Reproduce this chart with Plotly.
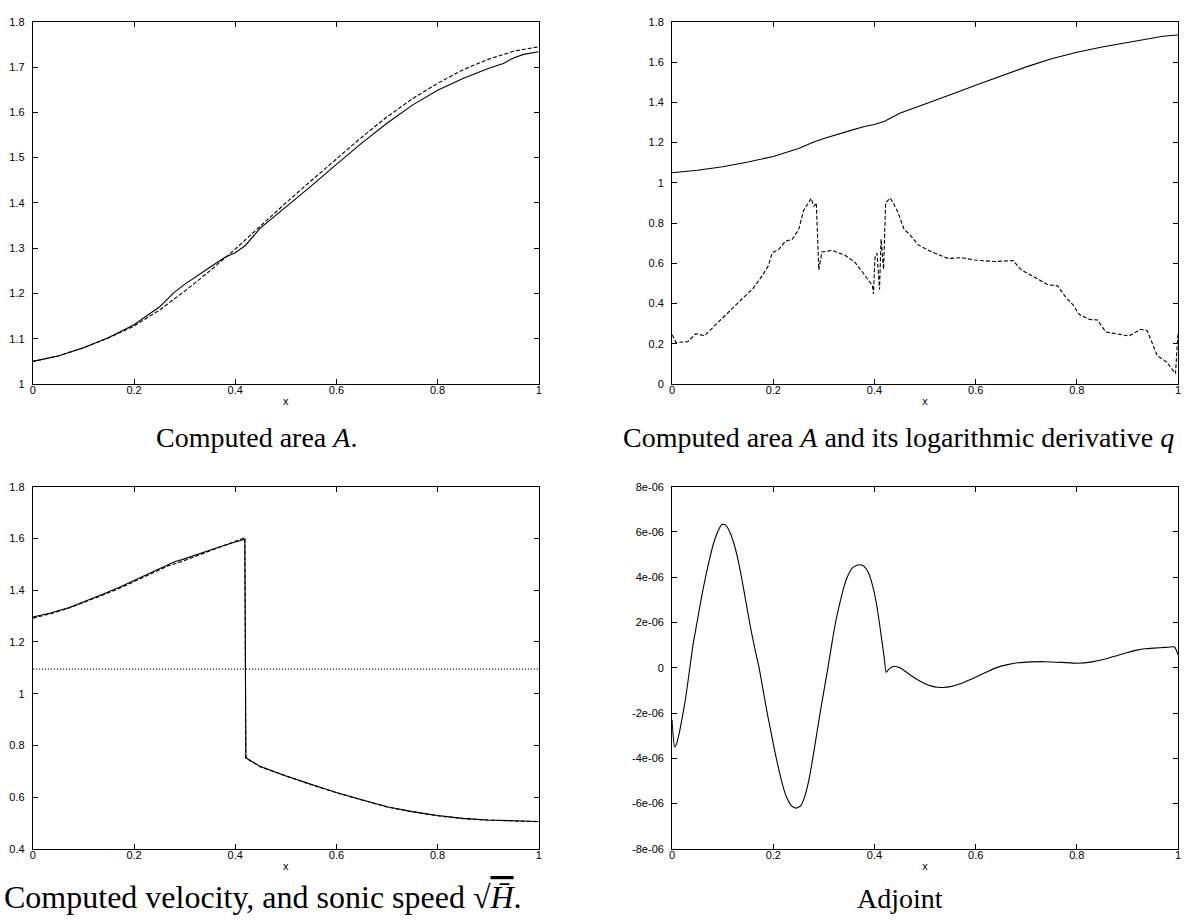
import plotly.graph_objects as go

W, H = 1187, 924

# ---------------- data ----------------
x_ticks = [0, 0.2, 0.4, 0.6, 0.8, 1.0]
x_tick_labels = ["0", "0.2", "0.4", "0.6", "0.8", "1"]

# Computed area A (solid, used in both top panels)
area_x = [0, 0.05, 0.1, 0.15, 0.2, 0.25, 0.28, 0.3, 0.35, 0.38, 0.4, 0.42, 0.45,
          0.5, 0.55, 0.6, 0.65, 0.7, 0.75, 0.8, 0.85, 0.9, 0.93, 0.95, 0.97, 1.0]
area_solid = [1.05, 1.062, 1.08, 1.103, 1.131, 1.17, 1.203, 1.22, 1.258, 1.28, 1.29, 1.306,
              1.345, 1.39, 1.437, 1.485, 1.532, 1.576, 1.616, 1.649, 1.675, 1.697, 1.708,
              1.72, 1.728, 1.734]
# target area (dashed)
target_x = [0, 0.05, 0.1, 0.15, 0.2, 0.25, 0.3, 0.35, 0.4, 0.45, 0.5, 0.55, 0.6,
            0.65, 0.7, 0.75, 0.8, 0.85, 0.9, 0.95, 1.0]
target_area = [1.05, 1.062, 1.08, 1.102, 1.128, 1.163, 1.205, 1.25, 1.298, 1.35, 1.4,
               1.449, 1.497, 1.545, 1.59, 1.63, 1.664, 1.694, 1.717, 1.735, 1.745]

# logarithmic derivative q (dashed, top right)
q_x = [0, 0.0075, 0.031, 0.047, 0.064, 0.08, 0.1, 0.119, 0.139, 0.159, 0.178, 0.19,
       0.198, 0.211, 0.224, 0.237, 0.25, 0.26, 0.275, 0.28, 0.285, 0.29, 0.296, 0.316,
       0.342, 0.362, 0.382, 0.396, 0.398, 0.401, 0.405, 0.41, 0.413, 0.418, 0.422,
       0.431, 0.437, 0.447, 0.458, 0.471, 0.487, 0.513, 0.546, 0.572, 0.598, 0.638,
       0.674, 0.69, 0.72, 0.743, 0.762, 0.779, 0.792, 0.805, 0.825, 0.841, 0.857,
       0.88, 0.903, 0.926, 0.939, 0.959, 0.978, 0.995, 1.0]
q_values = [0.245, 0.207, 0.21, 0.25, 0.24, 0.28, 0.325, 0.377, 0.425, 0.472, 0.538,
            0.587, 0.652, 0.669, 0.71, 0.718, 0.767, 0.862, 0.923, 0.882, 0.90, 0.567,
            0.656, 0.664, 0.64, 0.603, 0.538, 0.49, 0.448, 0.63, 0.65, 0.47, 0.72, 0.57,
            0.90, 0.925, 0.90, 0.85, 0.772, 0.739, 0.69, 0.657, 0.624, 0.628, 0.616,
            0.609, 0.613, 0.567, 0.526, 0.493, 0.488, 0.428, 0.395, 0.345, 0.321, 0.318,
            0.259, 0.25, 0.239, 0.272, 0.265, 0.141, 0.108, 0.051, 0.255]

# velocity (bottom left)
vel_x = [0, 0.035, 0.072, 0.105, 0.137, 0.17, 0.203, 0.235, 0.269, 0.28, 0.295, 0.334,
         0.37, 0.40, 0.419, 0.421, 0.43, 0.45, 0.5, 0.55, 0.6, 0.65, 0.7, 0.75, 0.8,
         0.85, 0.9, 0.95, 1.0]
vel_solid = [1.296, 1.312, 1.333, 1.357, 1.383, 1.41, 1.44, 1.472, 1.502, 1.51, 1.518,
             1.545, 1.568, 1.586, 1.597, 0.752, 0.741, 0.718, 0.682, 0.649, 0.618, 0.590,
             0.563, 0.544, 0.529, 0.518, 0.512, 0.509, 0.506]
vel_dashed = [1.292, 1.309, 1.331, 1.355, 1.380, 1.406, 1.436, 1.466, 1.495, 1.502,
              1.511, 1.540, 1.566, 1.587, 1.603, 0.752, 0.740, 0.717, 0.681, 0.648,
              0.617, 0.589, 0.562, 0.543, 0.528, 0.517, 0.511, 0.508, 0.505]
sonic_x = [0, 1.0]
sonic_speed = [1.095, 1.095]

# adjoint (bottom right)
adj_x = [0, 0.002, 0.005, 0.009, 0.014, 0.02, 0.027, 0.035, 0.042, 0.05, 0.058, 0.066,
         0.074, 0.082, 0.09, 0.098, 0.106, 0.114, 0.122, 0.13, 0.138, 0.146, 0.154,
         0.163, 0.172, 0.18, 0.188, 0.196, 0.204, 0.212, 0.22, 0.228, 0.236, 0.245,
         0.254, 0.262, 0.27, 0.278, 0.286, 0.294, 0.301, 0.308, 0.316, 0.324, 0.332,
         0.34, 0.348, 0.356, 0.364, 0.373, 0.381, 0.389, 0.396, 0.403, 0.409, 0.414,
         0.419, 0.423, 0.427, 0.432, 0.437, 0.442, 0.45, 0.46, 0.473, 0.487, 0.5, 0.513,
         0.525, 0.536, 0.55, 0.565, 0.585, 0.605, 0.625, 0.644, 0.663, 0.683, 0.71,
         0.736, 0.77, 0.801, 0.83, 0.854, 0.885, 0.919, 0.935, 0.952, 0.975, 0.993, 1.0]
adj_values_e6 = [-2.3, -3.0, -3.5, -3.35, -2.9, -2.2, -1.3, 0.0, 1.1, 2.1, 3.1, 4.0,
                 4.8, 5.5, 6.0, 6.33, 6.3, 6.0, 5.5, 4.8, 3.9, 2.9, 1.9, 0.9, 0.0,
                 -1.0, -2.0, -2.9, -3.8, -4.6, -5.3, -5.8, -6.1, -6.2, -6.1, -5.7, -5.0,
                 -4.0, -2.9, -1.8, -0.9, 0.0, 1.1, 2.1, 2.9, 3.6, 4.1, 4.4, 4.52, 4.55,
                 4.45, 4.15, 3.65, 2.95, 2.1, 1.3, 0.5, -0.2, -0.1, 0.0, 0.06, 0.06, 0.0,
                 -0.14, -0.35, -0.55, -0.7, -0.81, -0.86, -0.87, -0.83, -0.74, -0.56,
                 -0.36, -0.15, 0.03, 0.14, 0.22, 0.26, 0.27, 0.24, 0.2, 0.26, 0.375,
                 0.58, 0.78, 0.84, 0.87, 0.9, 0.92, 0.58]
adj_values = [v * 1e-6 for v in adj_values_e6]
adj_ticks = [-8e-6, -6e-6, -4e-6, -2e-6, 0, 2e-6, 4e-6, 6e-6, 8e-6]
adj_tick_labels = ["-8e-06", "-6e-06", "-4e-06", "-2e-06", "0", "2e-06", "4e-06",
                   "6e-06", "8e-06"]

captions = ["Computed area <i>A</i>.",
            "Computed area <i>A</i> and its logarithmic derivative <i>q</i>",
            "Computed velocity, and sonic speed \u221a<span style=\"text-decoration:overline\"><i>H\u0304</i></span>.",
            "Adjoint"]

# ---------------- figure ----------------
fig = go.Figure()
solid = dict(color="black", width=1.1)
dashed = dict(color="black", width=1.1, dash="4px,2px")
dotted = dict(color="black", width=1.1, dash="1px,2px")

fig.add_trace(go.Scatter(x=area_x, y=area_solid, mode="lines", line=solid, xaxis="x", yaxis="y"))
fig.add_trace(go.Scatter(x=target_x, y=target_area, mode="lines", line=dashed, xaxis="x", yaxis="y"))
fig.add_trace(go.Scatter(x=area_x, y=area_solid, mode="lines", line=solid, xaxis="x2", yaxis="y2"))
fig.add_trace(go.Scatter(x=q_x, y=q_values, mode="lines", line=dashed, xaxis="x2", yaxis="y2"))
fig.add_trace(go.Scatter(x=vel_x, y=vel_solid, mode="lines", line=solid, xaxis="x3", yaxis="y3"))
fig.add_trace(go.Scatter(x=vel_x, y=vel_dashed, mode="lines", line=dashed, xaxis="x3", yaxis="y3"))
fig.add_trace(go.Scatter(x=sonic_x, y=sonic_speed, mode="lines", line=dotted, xaxis="x3", yaxis="y3"))
fig.add_trace(go.Scatter(x=adj_x, y=adj_values, mode="lines", line=dict(solid, shape="spline", smoothing=0.5),
                         xaxis="x4", yaxis="y4"))

tickfont = dict(family="Liberation Sans, Arial, sans-serif", size=11, color="black")
common = dict(showline=True, linecolor="black", linewidth=1, mirror="ticks", ticks="inside",
              ticklen=5, tickcolor="black", tickwidth=1, showgrid=False, zeroline=False,
              tickfont=tickfont, fixedrange=True)

xd_left = [30 / W, 538.5 / W]
xd_right = [672.5 / W, 1181 / W]
yd_top = [1 - 383 / H, 1 - 16 / H]
yd_bot = [1 - 854 / H, 1 - 487 / H]

def xax(dom, anchor):
    return dict(common, domain=dom, anchor=anchor, range=[0, 1], tickvals=x_ticks,
                ticktext=x_tick_labels, ticklabelstandoff=-4,
                title=dict(text="x", font=tickfont, standoff=2))

def yax(dom, anchor, rng, tv, tt):
    return dict(common, domain=dom, anchor=anchor, range=rng, tickvals=tv, ticktext=tt,
                ticklabelstandoff=5)

fig.update_layout(
    width=W, height=H, margin=dict(l=0, r=0, t=0, b=0),
    paper_bgcolor="white", plot_bgcolor="white", showlegend=False,
    xaxis=xax(xd_left, "y"),
    yaxis=yax(yd_top, "x", [1, 1.8], [1, 1.1, 1.2, 1.3, 1.4, 1.5, 1.6, 1.7, 1.8],
              ["1", "1.1", "1.2", "1.3", "1.4", "1.5", "1.6", "1.7", "1.8"]),
    xaxis2=xax(xd_right, "y2"),
    yaxis2=yax(yd_top, "x2", [0, 1.8], [0, 0.2, 0.4, 0.6, 0.8, 1, 1.2, 1.4, 1.6, 1.8],
               ["0", "0.2", "0.4", "0.6", "0.8", "1", "1.2", "1.4", "1.6", "1.8"]),
    xaxis3=xax(xd_left, "y3"),
    yaxis3=yax(yd_bot, "x3", [0.4, 1.8], [0.4, 0.6, 0.8, 1, 1.2, 1.4, 1.6, 1.8],
               ["0.4", "0.6", "0.8", "1", "1.2", "1.4", "1.6", "1.8"]),
    xaxis4=xax(xd_right, "y4"),
    yaxis4=yax(yd_bot, "x4", [-8e-6, 8e-6], adj_ticks, adj_tick_labels),
)

cap_pos = [(255, 437, "center", 28), (900, 437, "center", 28),
           (0, 903, "left", 32), (902, 904, "center", 28)]
for text, (cx, cy, anc, fs) in zip(captions, cap_pos):
    fig.add_annotation(text=text, xref="paper", yref="paper", x=cx / W, y=1 - cy / H,
                       xanchor=anc, yanchor="middle", showarrow=False, borderpad=0,
                       font=dict(family="Liberation Serif, Times New Roman, serif",
                                 size=fs, color="black"))

fig.write_html("out.html")
